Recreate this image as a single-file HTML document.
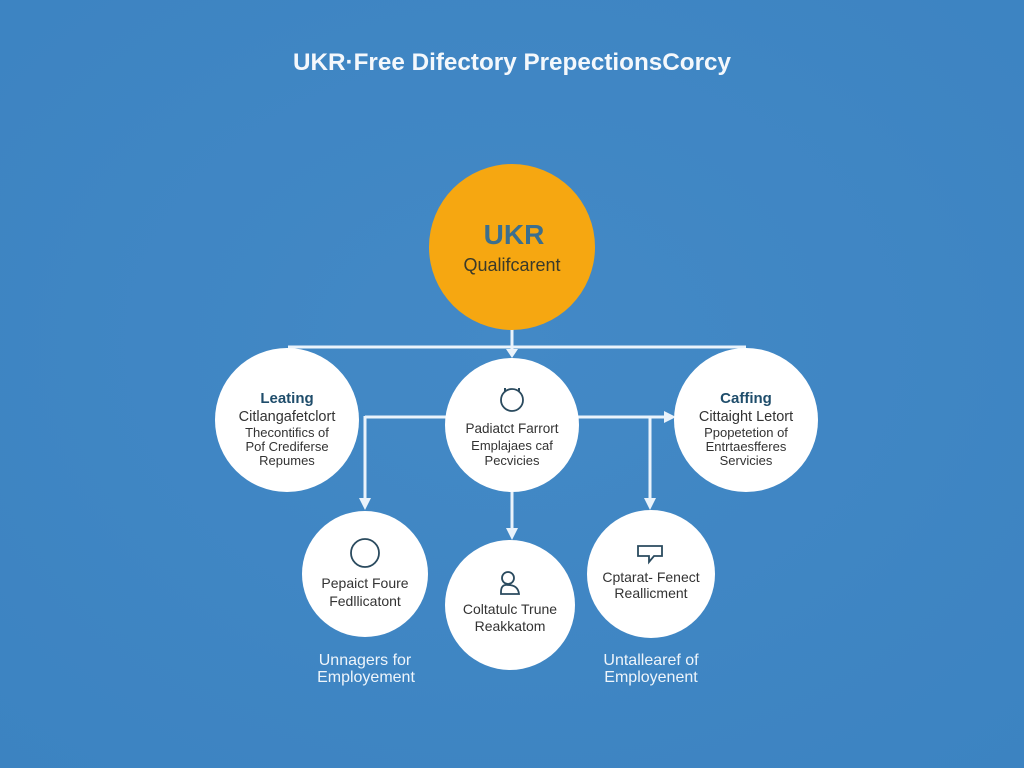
<!DOCTYPE html>
<html><head><meta charset="utf-8"><style>
html,body{margin:0;padding:0;width:1024px;height:768px;overflow:hidden;background:#3f86c4;}
svg{display:block;}
text{font-family:"Liberation Sans",sans-serif;}
</style></head><body>
<svg width="1024" height="768" viewBox="0 0 1024 768" xmlns="http://www.w3.org/2000/svg">
<defs>
<radialGradient id="bg" cx="50%" cy="45%" r="75%">
<stop offset="0" stop-color="#4389c6"/><stop offset="1" stop-color="#3c83c1"/>
</radialGradient>
</defs>
<rect width="1024" height="768" fill="url(#bg)"/>
<text x="512" y="70" text-anchor="middle" font-size="24" font-weight="bold" fill="#f4f8fc" textLength="438" lengthAdjust="spacingAndGlyphs">UKR·Free Difectory PrepectionsCorcy</text>

<g stroke="#eaf3fb" stroke-width="3" fill="none">
<line x1="512" y1="328" x2="512" y2="352"/>
<line x1="288" y1="347" x2="746" y2="347"/>
<line x1="365" y1="417" x2="447" y2="417"/>
<line x1="365" y1="416" x2="365" y2="500"/>
<line x1="578" y1="417" x2="666" y2="417"/>
<line x1="650" y1="416" x2="650" y2="500"/>
<line x1="512" y1="492" x2="512" y2="530"/>
</g>
<g fill="#eaf3fb">
<polygon points="506,349 518,349 512,358"/>
<polygon points="359,498 371,498 365,510"/>
<polygon points="644,498 656,498 650,510"/>
<polygon points="506,528 518,528 512,540"/>
<polygon points="664,411 664,423 676,417"/>
</g>

<circle cx="512" cy="247" r="83" fill="#f6a711"/>
<text x="514" y="244" text-anchor="middle" font-size="28" font-weight="bold" fill="#3c6f8e">UKR</text>
<text x="512" y="271" text-anchor="middle" font-size="18" fill="#3a3a2a">Qualifcarent</text>

<g fill="#ffffff">
<circle cx="287" cy="420" r="72"/>
<circle cx="512" cy="425" r="67"/>
<circle cx="746" cy="420" r="72"/>
<circle cx="365" cy="574" r="63"/>
<circle cx="510" cy="605" r="65"/>
<circle cx="651" cy="574" r="64"/>
</g>

<g text-anchor="middle" fill="#333">
<text x="287" y="403" font-size="15" font-weight="bold" fill="#1f4d6b">Leating</text>
<text x="287" y="421" font-size="14.5">Citlangafetclort</text>
<text x="287" y="437" font-size="13">Thecontifics of</text>
<text x="287" y="451" font-size="13">Pof Crediferse</text>
<text x="287" y="465" font-size="13">Repumes</text>

<text x="512" y="433" font-size="13.5">Padiatct Farrort</text>
<text x="512" y="450" font-size="13">Emplajaes caf</text>
<text x="512" y="465" font-size="13">Pecvicies</text>

<text x="746" y="403" font-size="15" font-weight="bold" fill="#1f4d6b">Caffing</text>
<text x="746" y="421" font-size="14.5">Cittaight Letort</text>
<text x="746" y="437" font-size="13">Ppopetetion of</text>
<text x="746" y="451" font-size="13">Entrtaesfferes</text>
<text x="746" y="465" font-size="13">Servicies</text>

<text x="365" y="588" font-size="14">Pepaict Foure</text>
<text x="365" y="606" font-size="14">Fedllicatont</text>

<text x="510" y="614" font-size="14">Coltatulc Trune</text>
<text x="510" y="631" font-size="14">Reakkatom</text>

<text x="651" y="582" font-size="14">Cptarat- Fenect</text>
<text x="651" y="598" font-size="14">Reallicment</text>
</g>

<g fill="none" stroke="#2a4a5e" stroke-width="1.8">
<circle cx="512" cy="400" r="11"/>
<circle cx="365" cy="553" r="14"/>
<circle cx="508" cy="578" r="6"/>
<path d="M501 592 Q501 584 508 585 Q518 585 519 594 L501 594 Z"/>
<path d="M638 546 h24 v10 h-8 l-5 6 v-6 h-11 z"/>
</g>
<g fill="#2a4a5e"><rect x="504" y="388" width="2" height="3"/><rect x="518" y="388" width="2" height="3"/></g>

<g text-anchor="middle" fill="#eef5fb" font-size="16">
<text x="365" y="665">Unnagers for</text>
<text x="366" y="682">Employement</text>
<text x="651" y="665">Untallearef of</text>
<text x="651" y="682">Employenent</text>
</g>
</svg>
</body></html>
